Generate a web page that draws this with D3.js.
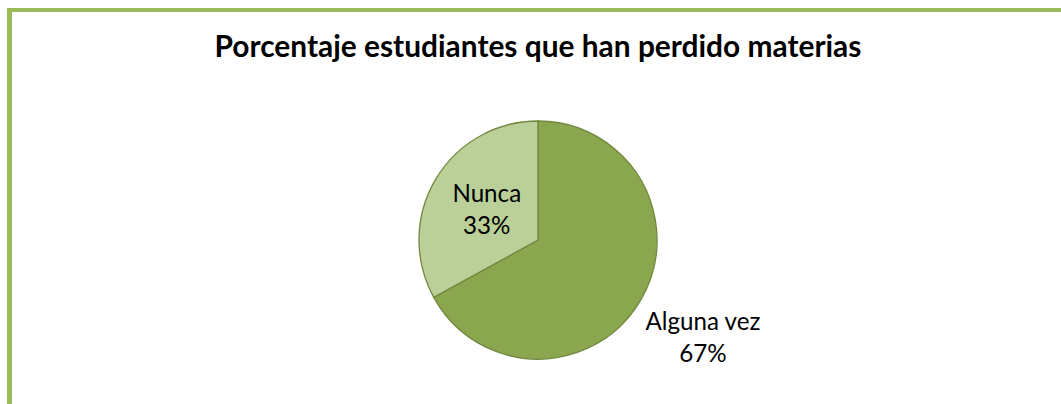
<!DOCTYPE html>
<html>
<head lang="es">
    <meta charset="UTF-8">
    <title>Porcentaje estudiantes</title>
    <script src="https://d3js.org/d3.v7.min.js" charset="utf-8"></script>
    <style type="text/css">
        body { margin: 0; background: #ffffff; }
        text { font-family: Lato, "Open Sans", sans-serif; }
    </style>
</head>
<body>

<svg id="svg" width="1061" height="404"></svg>

<script>
    var categories = ["Alguna vez", "Nunca"];
    var values = [67, 33];
    var labels = ["67%", "33%"];
    var title = "Porcentaje estudiantes que han perdido materias";

    var svg = d3.select("svg");
    var width = 1061, height = 404;

    // frame (left + top only, like the original)
    svg.append("rect").attr("x", 7).attr("y", 8).attr("width", width - 7).attr("height", 4).style("fill", "#9bbb59");
    svg.append("rect").attr("x", 7).attr("y", 8).attr("width", 5).attr("height", height - 8).style("fill", "#9bbb59");

    // title, sized to fit the width it has in the picture
    var t = svg.append("text")
            .attr("x", 538).attr("y", 57)
            .attr("text-anchor", "middle")
            .style("font-weight", "bold")
            .style("font-size", "22px")
            .style("fill", "#000")
            .text(title);
    var tw = t.node().getComputedTextLength();
    t.style("font-size", (22 * 647 / tw) + "px");

    var cx = 538, cy = 240, radius = 119;
    var colors = d3.scaleOrdinal().domain(categories).range(["#8aa64f", "#bbcf98"]);

    var pie = d3.pie().sort(null).value(function (d, i) { return values[i]; });
    var arc = d3.arc().innerRadius(0).outerRadius(radius);

    var g = svg.append("g").attr("transform", "translate(" + cx + "," + cy + ")");
    var arcs = pie(categories);

    g.selectAll("path").data(arcs).enter().append("path")
            .attr("d", arc)
            .style("fill", function (d) { return colors(d.data); })
            .style("stroke", "#71893f")
            .style("stroke-width", 1.3);

    // label font sized so "Alguna vez" is as wide as in the picture
    var probe = svg.append("text").style("font-size", "20px").text(categories[0]);
    var labelSize = 20 * 115 / probe.node().getComputedTextLength();
    probe.remove();

    // "Nunca" inside its slice, "Alguna vez" outside, lower right
    var insideArc = d3.arc().innerRadius(radius * 0.5).outerRadius(radius * 0.5);
    var outsideArc = d3.arc().innerRadius(radius * 1.61).outerRadius(radius * 1.61);

    arcs.forEach(function (d, i) {
        var p = (i === 1) ? insideArc.centroid(d) : outsideArc.centroid(d);
        var lx = cx + p[0], ly = cy + p[1];
        var txt = svg.append("text")
                .attr("text-anchor", "middle")
                .style("font-size", labelSize + "px")
                .style("fill", "#000");
        txt.append("tspan").attr("x", lx).attr("y", ly - 8).text(categories[i]);
        txt.append("tspan").attr("x", lx).attr("y", ly + 24).text(labels[i]);
    });
</script>

</body>
</html>
